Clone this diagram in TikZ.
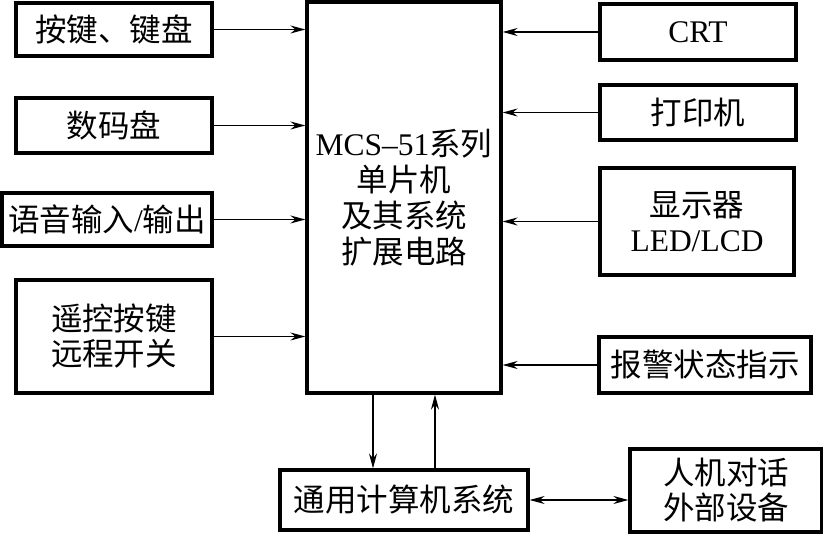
\documentclass[tikz,border=0pt]{standalone}
\usepackage{fontspec}
\setmainfont{Liberation Serif}
\newfontfamily\cjk{Noto Sans CJK SC}
\usetikzlibrary{arrows.meta}

\begin{document}
\begin{tikzpicture}[x=1pt, y=-1pt,
    blk/.style={draw, line width=3.2pt, inner sep=0pt, align=center, font=\fontsize{31.5}{35}\selectfont},
    arr/.style={line width=1.6pt, -{Stealth[length=15pt, width=8pt, inset=5pt]}},
    darr/.style={line width=1.6pt, {Stealth[length=15pt, width=8pt, inset=5pt]}-{Stealth[length=15pt, width=8pt, inset=5pt]}},
  ]
  \useasboundingbox (0,0) rectangle (823,534);
  % inputs
  \node[blk, minimum width=196pt, minimum height=53pt]  (keys)   at (114,29.5)  {\cjk 按键、键盘};
  \node[blk, minimum width=196pt, minimum height=55pt]  (digit)  at (114,125.5) {\cjk 数码盘};
  \node[blk, minimum width=210pt, minimum height=53pt]  (voice)  at (107,219.5) {{\cjk 语音输入}/{\cjk 输出}};
  \node[blk, minimum width=196pt, minimum height=113pt] (remote) at (114,336.5) {{\cjk 遥控按键}\\{\cjk 远程开关}};
  % mcu
  \node[blk, minimum width=194pt, minimum height=391pt] (mcu)    at (404,197.5)
    {MCS–51{\cjk 系列}\\[1pt]{\cjk 单片机}\\[1pt]{\cjk 及其系统}\\[1pt]{\cjk 扩展电路}};
  % outputs
  \node[blk, minimum width=196pt, minimum height=56pt]  (crt)    at (698,32)    {CRT};
  \node[blk, minimum width=196pt, minimum height=55pt]  (prn)    at (698,112.5) {\cjk 打印机};
  \node[blk, minimum width=194pt, minimum height=107pt] (disp)   at (697,221.5) {{\cjk 显示器}\\LED/LCD};
  \node[blk, minimum width=212pt, minimum height=56pt]  (alarm)  at (705,365)   {\cjk 报警状态指示};
  % bottom
  \node[blk, minimum width=248pt, minimum height=60pt]  (pc)     at (404,500)   {\cjk 通用计算机系统};
  \node[blk, minimum width=192pt, minimum height=83pt]  (hmi)    at (726,490.5) {{\cjk 人机对话}\\{\cjk 外部设备}};

  \draw[arr] (keys.east)   -- (keys.east -| mcu.west);
  \draw[arr] (digit.east)  -- (digit.east -| mcu.west);
  \draw[arr] (voice.east)  -- (voice.east -| mcu.west);
  \draw[arr] (remote.east) -- (remote.east -| mcu.west);
  \draw[arr] (crt.west)    -- (crt.west -| mcu.east);
  \draw[arr] (prn.west)    -- (prn.west -| mcu.east);
  \draw[arr] (disp.west)   -- (disp.west -| mcu.east);
  \draw[arr] (alarm.west)  -- (alarm.west -| mcu.east);
  \draw[arr] ([xshift=-31pt]mcu.south) -- ([xshift=-31pt]pc.north);
  \draw[arr] ([xshift=31pt]pc.north)   -- ([xshift=31pt]mcu.south);
  \draw[darr] (pc.east) -- (pc.east -| hmi.west);
\end{tikzpicture}
\end{document}
